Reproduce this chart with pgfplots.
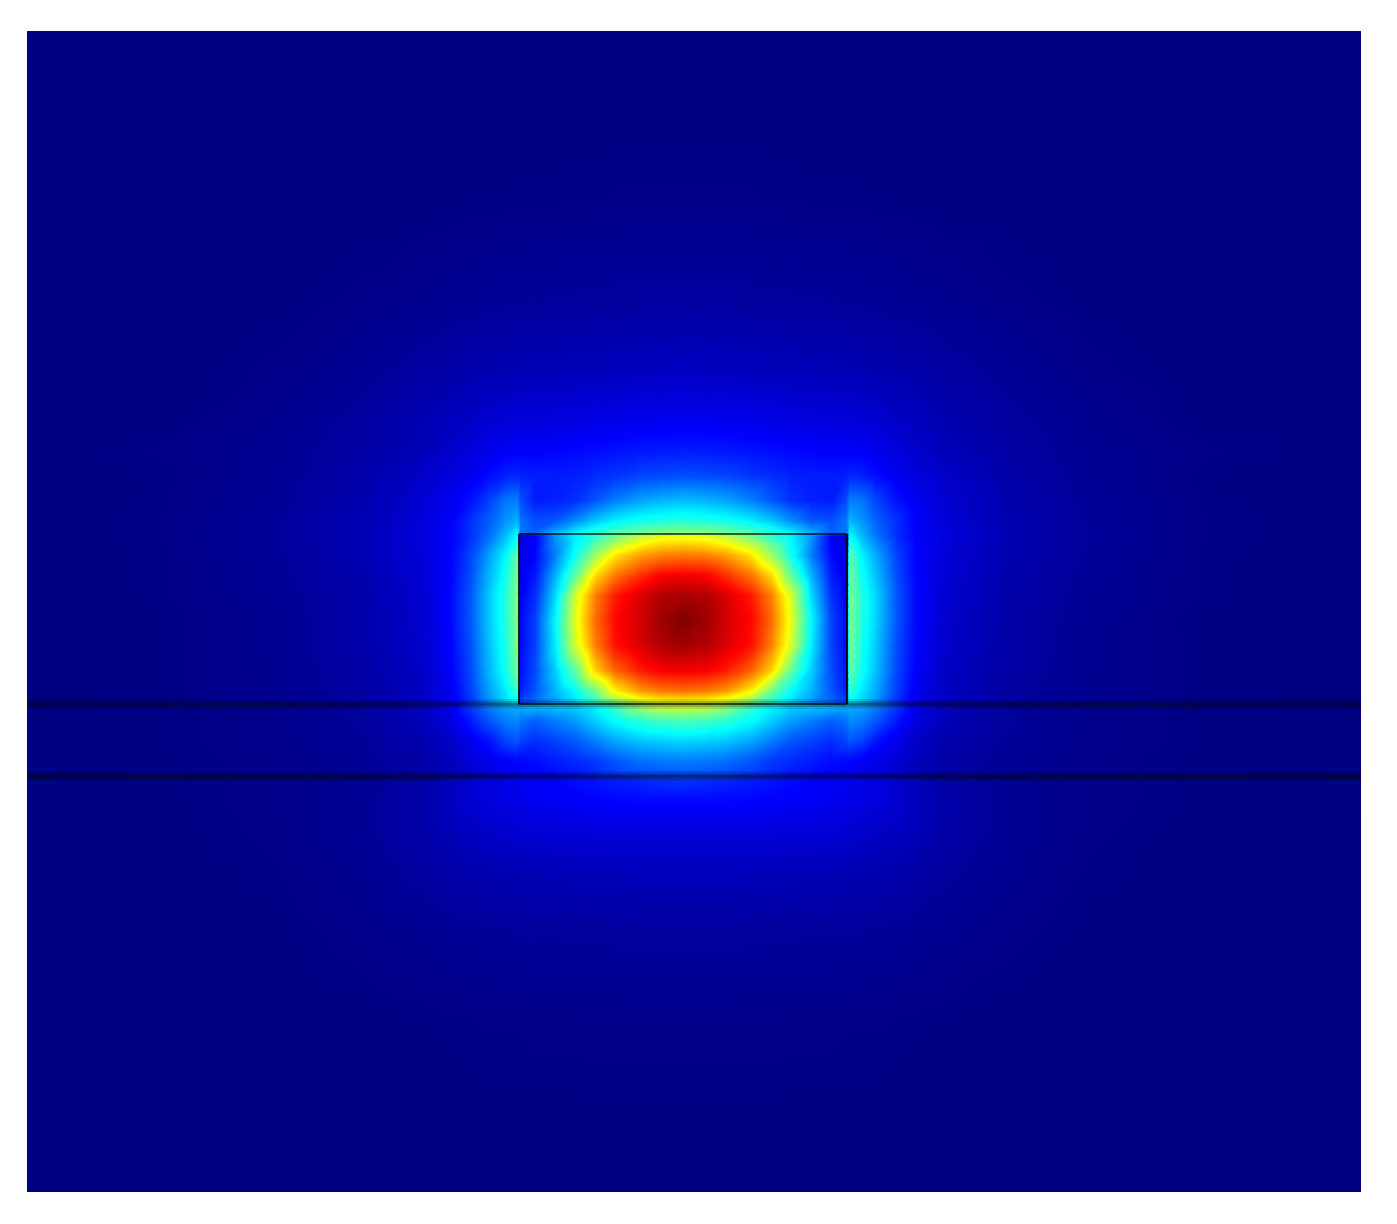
\documentclass[border=0pt]{standalone}
\usepackage{pgfplots}
\pgfplotsset{compat=1.18}
\begin{document}
\begin{tikzpicture}
\useasboundingbox (0,0) rectangle (698.5pt,611.5pt);
\begin{axis}[
  at={(13.5pt,16pt)}, anchor=south west,
  scale only axis, width=667pt, height=580pt,
  hide axis, view={0}{90},
  xmin=27, xmax=1361, ymin=31, ymax=1191, y dir=reverse,
  colormap/jet, point meta min=0, point meta max=1,
]
\addplot3[surf, shader=interp, mesh/cols=37] table[row sep=\\, header=false, x index=0, y index=1, z index=2] {
27 31 0\\160 31 0\\280 31 0\\360 31 0\\420 31 0\\450 31 0\\470 31 0\\490 31 0\\505 31 0\\517 31 0\\520 31 0\\535 31 0\\555 31 0\\575 31 0\\595 31 0\\615 31 0\\640 31 0\\660 31 0\\683 31 0\\706 31 0\\726 31 0\\751 31 0\\771 31 0\\791 31 0\\811 31 0\\831 31 0\\846 31 0\\849 31 0\\861 31 0\\876 31 0\\896 31 0\\916 31 0\\946 31 0\\1006 31 0\\1086 31 0\\1206 31 0\\1361 31 0\\
27 200 0\\160 200 0\\280 200 .001\\360 200 .002\\420 200 .003\\450 200 .004\\470 200 .005\\490 200 .005\\505 200 .005\\517 200 .006\\520 200 .006\\535 200 .006\\555 200 .006\\575 200 .007\\595 200 .007\\615 200 .008\\640 200 .008\\660 200 .008\\683 200 .008\\706 200 .008\\726 200 .008\\751 200 .008\\771 200 .007\\791 200 .007\\811 200 .006\\831 200 .006\\846 200 .006\\849 200 .006\\861 200 .005\\876 200 .005\\896 200 .005\\916 200 .004\\946 200 .003\\1006 200 .002\\1086 200 .001\\1206 200 0\\1361 200 0\\
27 300 0\\160 300 0\\280 300 .004\\360 300 .009\\420 300 .014\\450 300 .017\\470 300 .019\\490 300 .021\\505 300 .023\\517 300 .024\\520 300 .024\\535 300 .025\\555 300 .026\\575 300 .027\\595 300 .028\\615 300 .029\\640 300 .03\\660 300 .03\\683 300 .03\\706 300 .03\\726 300 .03\\751 300 .029\\771 300 .028\\791 300 .027\\811 300 .026\\831 300 .025\\846 300 .024\\849 300 .024\\861 300 .023\\876 300 .021\\896 300 .019\\916 300 .017\\946 300 .014\\1006 300 .009\\1086 300 .004\\1206 300 0\\1361 300 0\\
27 370 0\\160 370 .002\\280 370 .009\\360 370 .02\\420 370 .032\\450 370 .04\\470 370 .044\\490 370 .047\\505 370 .05\\517 370 .052\\520 370 .052\\535 370 .054\\555 370 .055\\575 370 .056\\595 370 .058\\615 370 .06\\640 370 .062\\660 370 .064\\683 370 .065\\706 370 .064\\726 370 .062\\751 370 .06\\771 370 .058\\791 370 .056\\811 370 .055\\831 370 .054\\846 370 .052\\849 370 .052\\861 370 .05\\876 370 .047\\896 370 .044\\916 370 .04\\946 370 .032\\1006 370 .02\\1086 370 .009\\1206 370 .002\\1361 370 0\\
27 420 .001\\160 420 .003\\280 420 .015\\360 420 .03\\420 420 .048\\450 420 .06\\470 420 .07\\490 420 .08\\505 420 .085\\517 420 .09\\520 420 .09\\535 420 .09\\555 420 .092\\575 420 .095\\595 420 .1\\615 420 .104\\640 420 .108\\660 420 .11\\683 420 .11\\706 420 .11\\726 420 .108\\751 420 .104\\771 420 .1\\791 420 .095\\811 420 .092\\831 420 .09\\846 420 .09\\849 420 .09\\861 420 .085\\876 420 .08\\896 420 .07\\916 420 .06\\946 420 .048\\1006 420 .03\\1086 420 .015\\1206 420 .003\\1361 420 .001\\
27 450 .002\\160 450 .008\\280 450 .018\\360 450 .035\\420 450 .055\\450 450 .075\\470 450 .09\\490 450 .105\\505 450 .115\\517 450 .12\\520 450 .12\\535 450 .12\\555 450 .125\\575 450 .13\\595 450 .135\\615 450 .14\\640 450 .145\\660 450 .148\\683 450 .15\\706 450 .148\\726 450 .145\\751 450 .14\\771 450 .135\\791 450 .13\\811 450 .125\\831 450 .12\\846 450 .12\\849 450 .12\\861 450 .115\\876 450 .105\\896 450 .09\\916 450 .075\\946 450 .055\\1006 450 .035\\1086 450 .018\\1206 450 .008\\1361 450 .002\\
27 475 .002\\160 475 .005\\280 475 .02\\360 475 .04\\420 475 .07\\450 475 .09\\470 475 .11\\490 475 .135\\505 475 .155\\517 475 .16\\520 475 .155\\535 475 .15\\555 475 .15\\575 475 .155\\595 475 .165\\615 475 .175\\640 475 .19\\660 475 .195\\683 475 .2\\706 475 .195\\726 475 .19\\751 475 .175\\771 475 .165\\791 475 .155\\811 475 .15\\831 475 .15\\846 475 .155\\849 475 .16\\861 475 .155\\876 475 .135\\896 475 .11\\916 475 .09\\946 475 .07\\1006 475 .04\\1086 475 .02\\1206 475 .005\\1361 475 .002\\
27 500 .002\\160 500 .006\\280 500 .022\\360 500 .045\\420 500 .08\\450 500 .11\\470 500 .14\\490 500 .19\\505 500 .24\\517 500 .25\\520 500 .2\\535 500 .15\\555 500 .155\\575 500 .17\\595 500 .21\\615 500 .25\\640 500 .285\\660 500 .3\\683 500 .31\\706 500 .3\\726 500 .285\\751 500 .25\\771 500 .21\\791 500 .17\\811 500 .155\\831 500 .15\\846 500 .2\\849 500 .25\\861 500 .24\\876 500 .19\\896 500 .14\\916 500 .11\\946 500 .08\\1006 500 .045\\1086 500 .022\\1206 500 .006\\1361 500 .002\\
27 520 .002\\160 520 .007\\280 520 .025\\360 520 .05\\420 520 .085\\450 520 .12\\470 520 .17\\490 520 .22\\505 520 .27\\517 520 .3\\520 520 .24\\535 520 .2\\555 520 .21\\575 520 .26\\595 520 .32\\615 520 .36\\640 520 .39\\660 520 .4\\683 520 .41\\706 520 .4\\726 520 .39\\751 520 .36\\771 520 .32\\791 520 .26\\811 520 .21\\831 520 .2\\846 520 .24\\849 520 .3\\861 520 .27\\876 520 .22\\896 520 .17\\916 520 .12\\946 520 .085\\1006 520 .05\\1086 520 .025\\1206 520 .007\\1361 520 .002\\
27 532 .002\\160 532 .007\\280 532 .026\\360 532 .05\\420 532 .09\\450 532 .12\\470 532 .17\\490 532 .23\\505 532 .3\\517 532 .36\\520 532 .24\\535 532 .22\\555 532 .29\\575 532 .36\\595 532 .41\\615 532 .45\\640 532 .48\\660 532 .5\\683 532 .5\\706 532 .5\\726 532 .48\\751 532 .45\\771 532 .41\\791 532 .36\\811 532 .29\\831 532 .22\\846 532 .24\\849 532 .36\\861 532 .3\\876 532 .23\\896 532 .17\\916 532 .12\\946 532 .09\\1006 532 .05\\1086 532 .026\\1206 532 .007\\1361 532 .002\\
27 536 .002\\160 536 .007\\280 536 .026\\360 536 .05\\420 536 .09\\450 536 .12\\470 536 .17\\490 536 .24\\505 536 .31\\517 536 .38\\520 536 .09\\535 536 .12\\555 536 .27\\575 536 .36\\595 536 .42\\615 536 .49\\640 536 .56\\660 536 .6\\683 536 .61\\706 536 .6\\726 536 .56\\751 536 .49\\771 536 .42\\791 536 .36\\811 536 .27\\831 536 .12\\846 536 .09\\849 536 .38\\861 536 .31\\876 536 .24\\896 536 .17\\916 536 .12\\946 536 .09\\1006 536 .05\\1086 536 .026\\1206 536 .007\\1361 536 .002\\
27 555 .002\\160 555 .006\\280 555 .024\\360 555 .05\\420 555 .085\\450 555 .125\\470 555 .19\\490 555 .29\\505 555 .37\\517 555 .47\\520 555 .1\\535 555 .13\\555 555 .25\\575 555 .39\\595 555 .53\\615 555 .65\\640 555 .72\\660 555 .75\\683 555 .76\\706 555 .75\\726 555 .72\\751 555 .65\\771 555 .53\\791 555 .39\\811 555 .25\\831 555 .13\\846 555 .1\\849 555 .47\\861 555 .37\\876 555 .29\\896 555 .19\\916 555 .125\\946 555 .085\\1006 555 .05\\1086 555 .024\\1206 555 .006\\1361 555 .002\\
27 575 .002\\160 575 .006\\280 575 .022\\360 575 .045\\420 575 .08\\450 575 .125\\470 575 .2\\490 575 .31\\505 575 .39\\517 575 .49\\520 575 .11\\535 575 .15\\555 575 .3\\575 575 .47\\595 575 .66\\615 575 .76\\640 575 .83\\660 575 .875\\683 575 .885\\706 575 .875\\726 575 .83\\751 575 .76\\771 575 .66\\791 575 .47\\811 575 .3\\831 575 .15\\846 575 .11\\849 575 .49\\861 575 .39\\876 575 .31\\896 575 .2\\916 575 .125\\946 575 .08\\1006 575 .045\\1086 575 .022\\1206 575 .006\\1361 575 .002\\
27 595 .002\\160 595 .006\\280 595 .02\\360 595 .042\\420 595 .078\\450 595 .13\\470 595 .21\\490 595 .33\\505 595 .41\\517 595 .5\\520 595 .12\\535 595 .17\\555 595 .34\\575 595 .58\\595 595 .75\\615 595 .85\\640 595 .91\\660 595 .95\\683 595 .96\\706 595 .95\\726 595 .91\\751 595 .85\\771 595 .75\\791 595 .58\\811 595 .34\\831 595 .17\\846 595 .12\\849 595 .5\\861 595 .41\\876 595 .33\\896 595 .21\\916 595 .13\\946 595 .078\\1006 595 .042\\1086 595 .02\\1206 595 .006\\1361 595 .002\\
27 620 .002\\160 620 .004\\280 620 .017\\360 620 .04\\420 620 .075\\450 620 .13\\470 620 .21\\490 620 .33\\505 620 .41\\517 620 .5\\520 620 .13\\535 620 .19\\555 620 .37\\575 620 .6\\595 620 .77\\615 620 .87\\640 620 .92\\660 620 .97\\683 620 1\\706 620 .97\\726 620 .92\\751 620 .87\\771 620 .77\\791 620 .6\\811 620 .37\\831 620 .19\\846 620 .13\\849 620 .5\\861 620 .41\\876 620 .33\\896 620 .21\\916 620 .13\\946 620 .075\\1006 620 .04\\1086 620 .017\\1206 620 .004\\1361 620 .002\\
27 645 .002\\160 645 .005\\280 645 .017\\360 645 .04\\420 645 .072\\450 645 .125\\470 645 .2\\490 645 .32\\505 645 .4\\517 645 .5\\520 645 .13\\535 645 .19\\555 645 .36\\575 645 .58\\595 645 .75\\615 645 .86\\640 645 .91\\660 645 .95\\683 645 .97\\706 645 .95\\726 645 .91\\751 645 .86\\771 645 .75\\791 645 .58\\811 645 .36\\831 645 .19\\846 645 .13\\849 645 .5\\861 645 .4\\876 645 .32\\896 645 .2\\916 645 .125\\946 645 .072\\1006 645 .04\\1086 645 .017\\1206 645 .005\\1361 645 .002\\
27 670 .002\\160 670 .005\\280 670 .016\\360 670 .036\\420 670 .068\\450 670 .12\\470 670 .195\\490 670 .31\\505 670 .39\\517 670 .48\\520 670 .14\\535 670 .2\\555 670 .33\\575 670 .47\\595 670 .67\\615 670 .78\\640 670 .85\\660 670 .88\\683 670 .885\\706 670 .88\\726 670 .85\\751 670 .78\\771 670 .67\\791 670 .47\\811 670 .33\\831 670 .2\\846 670 .14\\849 670 .48\\861 670 .39\\876 670 .31\\896 670 .195\\916 670 .12\\946 670 .068\\1006 670 .036\\1086 670 .016\\1206 670 .005\\1361 670 .002\\
27 690 .002\\160 690 .005\\280 690 .015\\360 690 .032\\420 690 .062\\450 690 .11\\470 690 .185\\490 690 .29\\505 690 .36\\517 690 .43\\520 690 .15\\535 690 .21\\555 690 .3\\575 690 .38\\595 690 .49\\615 690 .64\\640 690 .73\\660 690 .76\\683 690 .77\\706 690 .76\\726 690 .73\\751 690 .64\\771 690 .49\\791 690 .38\\811 690 .3\\831 690 .21\\846 690 .15\\849 690 .43\\861 690 .36\\876 690 .29\\896 690 .185\\916 690 .11\\946 690 .062\\1006 690 .032\\1086 690 .015\\1206 690 .005\\1361 690 .002\\
27 702 .002\\160 702 .005\\280 702 .015\\360 702 .03\\420 702 .06\\450 702 .105\\470 702 .175\\490 702 .27\\505 702 .33\\517 702 .38\\520 702 .19\\535 702 .23\\555 702 .28\\575 702 .34\\595 702 .42\\615 702 .5\\640 702 .58\\660 702 .61\\683 702 .62\\706 702 .61\\726 702 .58\\751 702 .5\\771 702 .42\\791 702 .34\\811 702 .28\\831 702 .23\\846 702 .19\\849 702 .38\\861 702 .33\\876 702 .27\\896 702 .175\\916 702 .105\\946 702 .06\\1006 702 .03\\1086 702 .015\\1206 702 .005\\1361 702 .002\\
27 706 .002\\160 706 .005\\280 706 .012\\360 706 .028\\420 706 .06\\450 706 .11\\470 706 .18\\490 706 .25\\505 706 .29\\517 706 .3\\520 706 .3\\535 706 .31\\555 706 .32\\575 706 .33\\595 706 .37\\615 706 .43\\640 706 .53\\660 706 .57\\683 706 .58\\706 706 .57\\726 706 .53\\751 706 .43\\771 706 .37\\791 706 .33\\811 706 .32\\831 706 .31\\846 706 .3\\849 706 .3\\861 706 .29\\876 706 .25\\896 706 .18\\916 706 .11\\946 706 .06\\1006 706 .028\\1086 706 .012\\1206 706 .005\\1361 706 .002\\
27 720 .002\\160 720 .005\\280 720 .012\\360 720 .028\\420 720 .055\\450 720 .09\\470 720 .15\\490 720 .21\\505 720 .25\\517 720 .26\\520 720 .24\\535 720 .22\\555 720 .25\\575 720 .28\\595 720 .33\\615 720 .38\\640 720 .42\\660 720 .44\\683 720 .45\\706 720 .44\\726 720 .42\\751 720 .38\\771 720 .33\\791 720 .28\\811 720 .25\\831 720 .22\\846 720 .24\\849 720 .26\\861 720 .25\\876 720 .21\\896 720 .15\\916 720 .09\\946 720 .055\\1006 720 .028\\1086 720 .012\\1206 720 .005\\1361 720 .002\\
27 740 .002\\160 740 .005\\280 740 .012\\360 740 .024\\420 740 .045\\450 740 .07\\470 740 .105\\490 740 .145\\505 740 .19\\517 740 .21\\520 740 .19\\535 740 .17\\555 740 .19\\575 740 .21\\595 740 .25\\615 740 .29\\640 740 .32\\660 740 .33\\683 740 .34\\706 740 .33\\726 740 .32\\751 740 .29\\771 740 .25\\791 740 .21\\811 740 .19\\831 740 .17\\846 740 .19\\849 740 .21\\861 740 .19\\876 740 .145\\896 740 .105\\916 740 .07\\946 740 .045\\1006 740 .024\\1086 740 .012\\1206 740 .005\\1361 740 .002\\
27 760 .002\\160 760 .004\\280 760 .01\\360 760 .02\\420 760 .036\\450 760 .06\\470 760 .085\\490 760 .105\\505 760 .12\\517 760 .13\\520 760 .13\\535 760 .135\\555 760 .15\\575 760 .165\\595 760 .18\\615 760 .21\\640 760 .235\\660 760 .245\\683 760 .25\\706 760 .245\\726 760 .235\\751 760 .21\\771 760 .18\\791 760 .165\\811 760 .15\\831 760 .135\\846 760 .13\\849 760 .13\\861 760 .12\\876 760 .105\\896 760 .085\\916 760 .06\\946 760 .036\\1006 760 .02\\1086 760 .01\\1206 760 .004\\1361 760 .002\\
27 774 .002\\160 774 .004\\280 774 .01\\360 774 .018\\420 774 .032\\450 774 .052\\470 774 .075\\490 774 .095\\505 774 .105\\517 774 .115\\520 774 .12\\535 774 .125\\555 774 .135\\575 774 .145\\595 774 .165\\615 774 .185\\640 774 .2\\660 774 .205\\683 774 .21\\706 774 .205\\726 774 .2\\751 774 .185\\771 774 .165\\791 774 .145\\811 774 .135\\831 774 .125\\846 774 .12\\849 774 .115\\861 774 .105\\876 774 .095\\896 774 .075\\916 774 .052\\946 774 .032\\1006 774 .018\\1086 774 .01\\1206 774 .004\\1361 774 .002\\
27 778 .002\\160 778 .004\\280 778 .01\\360 778 .018\\420 778 .036\\450 778 .058\\470 778 .08\\490 778 .095\\505 778 .105\\517 778 .11\\520 778 .115\\535 778 .12\\555 778 .125\\575 778 .135\\595 778 .145\\615 778 .155\\640 778 .165\\660 778 .175\\683 778 .18\\706 778 .175\\726 778 .165\\751 778 .155\\771 778 .145\\791 778 .135\\811 778 .125\\831 778 .12\\846 778 .115\\849 778 .11\\861 778 .105\\876 778 .095\\896 778 .08\\916 778 .058\\946 778 .036\\1006 778 .018\\1086 778 .01\\1206 778 .004\\1361 778 .002\\
27 800 .002\\160 800 .004\\280 800 .01\\360 800 .02\\420 800 .042\\450 800 .062\\470 800 .08\\490 800 .09\\505 800 .097\\517 800 .102\\520 800 .105\\535 800 .11\\555 800 .115\\575 800 .12\\595 800 .125\\615 800 .127\\640 800 .13\\660 800 .13\\683 800 .13\\706 800 .13\\726 800 .13\\751 800 .127\\771 800 .125\\791 800 .12\\811 800 .115\\831 800 .11\\846 800 .105\\849 800 .102\\861 800 .097\\876 800 .09\\896 800 .08\\916 800 .062\\946 800 .042\\1006 800 .02\\1086 800 .01\\1206 800 .004\\1361 800 .002\\
27 830 .001\\160 830 .003\\280 830 .009\\360 830 .02\\420 830 .04\\450 830 .055\\470 830 .065\\490 830 .072\\505 830 .077\\517 830 .08\\520 830 .083\\535 830 .085\\555 830 .087\\575 830 .088\\595 830 .09\\615 830 .09\\640 830 .09\\660 830 .09\\683 830 .09\\706 830 .09\\726 830 .09\\751 830 .09\\771 830 .09\\791 830 .088\\811 830 .087\\831 830 .085\\846 830 .083\\849 830 .08\\861 830 .077\\876 830 .072\\896 830 .065\\916 830 .055\\946 830 .04\\1006 830 .02\\1086 830 .009\\1206 830 .003\\1361 830 .001\\
27 870 .001\\160 870 .002\\280 870 .007\\360 870 .016\\420 870 .03\\450 870 .04\\470 870 .045\\490 870 .048\\505 870 .05\\517 870 .052\\520 870 .052\\535 870 .054\\555 870 .055\\575 870 .056\\595 870 .058\\615 870 .059\\640 870 .06\\660 870 .06\\683 870 .06\\706 870 .06\\726 870 .06\\751 870 .059\\771 870 .058\\791 870 .056\\811 870 .055\\831 870 .054\\846 870 .052\\849 870 .052\\861 870 .05\\876 870 .048\\896 870 .045\\916 870 .04\\946 870 .03\\1006 870 .016\\1086 870 .007\\1206 870 .002\\1361 870 .001\\
27 930 0\\160 930 .001\\280 930 .004\\360 930 .01\\420 930 .016\\450 930 .02\\470 930 .022\\490 930 .024\\505 930 .025\\517 930 .026\\520 930 .026\\535 930 .027\\555 930 .027\\575 930 .028\\595 930 .028\\615 930 .029\\640 930 .03\\660 930 .03\\683 930 .03\\706 930 .03\\726 930 .03\\751 930 .029\\771 930 .028\\791 930 .028\\811 930 .027\\831 930 .027\\846 930 .026\\849 930 .026\\861 930 .025\\876 930 .024\\896 930 .022\\916 930 .02\\946 930 .016\\1006 930 .01\\1086 930 .004\\1206 930 .001\\1361 930 0\\
27 1020 0\\160 1020 0\\280 1020 .001\\360 1020 .003\\420 1020 .005\\450 1020 .006\\470 1020 .007\\490 1020 .008\\505 1020 .008\\517 1020 .008\\520 1020 .008\\535 1020 .009\\555 1020 .009\\575 1020 .009\\595 1020 .01\\615 1020 .01\\640 1020 .01\\660 1020 .01\\683 1020 .01\\706 1020 .01\\726 1020 .01\\751 1020 .01\\771 1020 .01\\791 1020 .009\\811 1020 .009\\831 1020 .009\\846 1020 .008\\849 1020 .008\\861 1020 .008\\876 1020 .008\\896 1020 .007\\916 1020 .006\\946 1020 .005\\1006 1020 .003\\1086 1020 .001\\1206 1020 0\\1361 1020 0\\
27 1191 0\\160 1191 0\\280 1191 0\\360 1191 0\\420 1191 0\\450 1191 0\\470 1191 0\\490 1191 0\\505 1191 0\\517 1191 0\\520 1191 0\\535 1191 0\\555 1191 0\\575 1191 0\\595 1191 0\\615 1191 0\\640 1191 0\\660 1191 0\\683 1191 0\\706 1191 0\\726 1191 0\\751 1191 0\\771 1191 0\\791 1191 0\\811 1191 0\\831 1191 0\\846 1191 0\\849 1191 0\\861 1191 0\\876 1191 0\\896 1191 0\\916 1191 0\\946 1191 0\\1006 1191 0\\1086 1191 0\\1206 1191 0\\1361 1191 0\\
};
% substrate interfaces
\addplot3[black, opacity=.12, line width=5pt, forget plot] coordinates {(27,704,1) (1361,704,1)};
\addplot3[black, opacity=.2, line width=3pt, forget plot] coordinates {(27,704,1) (1361,704,1)};
\addplot3[black, opacity=.25, line width=1.2pt, forget plot] coordinates {(27,704,1) (1361,704,1)};
\addplot3[black, opacity=.12, line width=5pt, forget plot] coordinates {(27,776,1) (1361,776,1)};
\addplot3[black, opacity=.2, line width=3pt, forget plot] coordinates {(27,776,1) (1361,776,1)};
\addplot3[black, opacity=.3, line width=1.2pt, forget plot] coordinates {(27,776,1) (1361,776,1)};
% waveguide outline
\addplot3[black, opacity=.65, line width=1.2pt, forget plot] coordinates {(519,534,1) (847,534,1)};
\addplot3[black, opacity=.85, line width=1.2pt, forget plot] coordinates {(519,534,1) (519,704,1)};
\addplot3[black, opacity=.85, line width=1.2pt, forget plot] coordinates {(847,534,1) (847,704,1)};
\addplot3[black, opacity=.5, line width=1.2pt, forget plot] coordinates {(519,704,1) (847,704,1)};
\end{axis}
\end{tikzpicture}
\end{document}
